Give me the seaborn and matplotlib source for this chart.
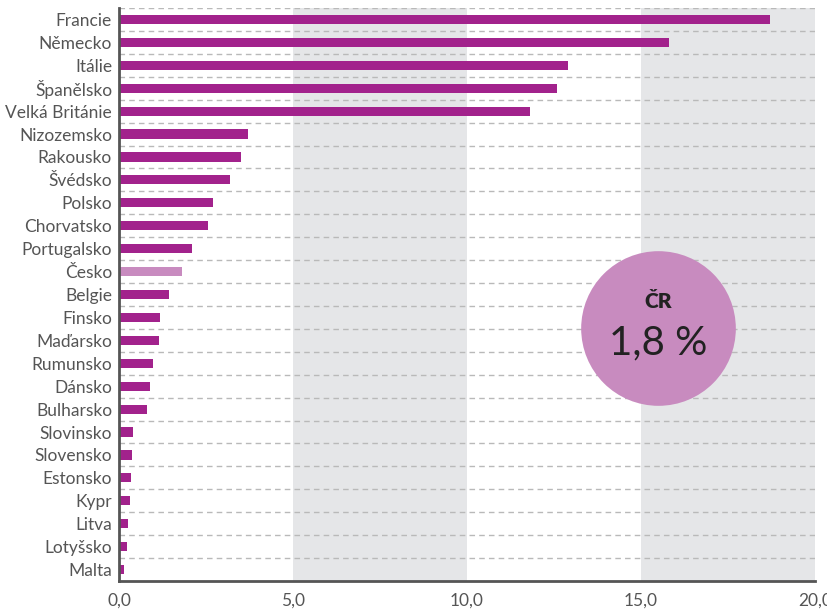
import matplotlib
matplotlib.use("Agg")
import matplotlib.pyplot as plt
import seaborn as sns
import pandas as pd

# data
countries = ["Francie", "Německo", "Itálie", "Španělsko", "Velká Británie", "Nizozemsko",
             "Rakousko", "Švédsko", "Polsko", "Chorvatsko", "Portugalsko", "Česko",
             "Belgie", "Finsko", "Maďarsko", "Rumunsko", "Dánsko", "Bulharsko",
             "Slovinsko", "Slovensko", "Estonsko", "Kypr", "Litva", "Lotyšsko", "Malta"]
shares = [18.7, 15.8, 12.9, 12.6, 11.8, 3.7, 3.5, 3.2, 2.7, 2.55, 2.1, 1.8,
          1.45, 1.18, 1.15, 0.98, 0.9, 0.8, 0.4, 0.37, 0.34, 0.31, 0.26, 0.23, 0.14]
highlight = "Česko"
cr_label = "ČR"
cr_value = "1,8 %"
x_ticks = [0, 5, 10, 15, 20]

bar_color = "#a2228c"
cz_color = "#c88bbf"
band_color = "#e5e6e8"
text_color = "#555555"

df = pd.DataFrame({"country": countries, "share": shares})
palette = {c: (cz_color if c == highlight else bar_color) for c in countries}

sns.set_style("white")
plt.rcParams["font.family"] = ["Lato", "DejaVu Sans"]

fig = plt.figure(figsize=(8.28, 6.10), dpi=100)
ax = fig.add_axes([0.1437, 0.0475, 0.8406, 0.9394])

# grey bands 5-10 and 15-20
ax.axvspan(5, 10, color=band_color, zorder=0, lw=0)
ax.axvspan(15, 20, color=band_color, zorder=0, lw=0)

# dashed separators between categories
n = len(countries)
ax.hlines([i - 0.5 for i in range(n)], 0, 20, colors="#b9b9b9",
          linestyles=(0, (4, 3)), linewidth=1, zorder=1)

sns.barplot(data=df, x="share", y="country", hue="country", palette=palette,
            legend=False, width=0.4, dodge=False, saturation=1, linewidth=0,
            ax=ax, zorder=2)

ax.set_xlim(0, 20)
ax.set_ylim(n - 0.5, -0.5)
ax.set_xticks(x_ticks)
ax.set_xticklabels([f"{t:.1f}".replace(".", ",") for t in x_ticks])
ax.set_xlabel("")
ax.set_ylabel("")
ax.tick_params(axis="both", length=0, labelsize=12.5, colors=text_color, pad=5)
ax.tick_params(axis="x", pad=8)

for s in ["top", "right"]:
    ax.spines[s].set_visible(False)
for s in ["left", "bottom"]:
    ax.spines[s].set_color("#555555")
    ax.spines[s].set_linewidth(2)
    ax.spines[s].set_zorder(5)

# circle with Czech value
ax.scatter([15.5], [13.45], s=12400, color=cz_color, zorder=4, linewidths=0, clip_on=False)
ax.text(15.5, 12.3, cr_label, ha="center", va="center", fontsize=15,
        fontweight="heavy", color="#222222", zorder=5)
ax.text(15.5, 14.1, cr_value, ha="center", va="center", fontsize=29,
        fontweight="normal", color="#222222", zorder=5)

fig.savefig("out.png", dpi=100)
